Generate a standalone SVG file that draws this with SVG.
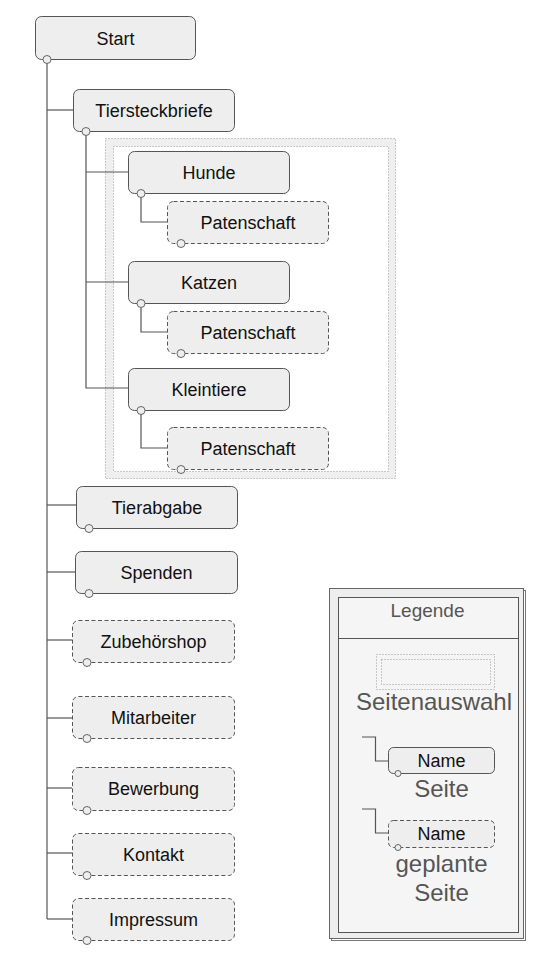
<svg xmlns="http://www.w3.org/2000/svg" width="540" height="959" viewBox="0 0 540 959">
<style>
.n{fill:#eeeeee;stroke:#555555;stroke-width:1}
.p{fill:#eeeeee;stroke:#555555;stroke-width:1;stroke-dasharray:4 2.5}
.t{font-family:"Liberation Sans",Arial,sans-serif;font-size:18px;fill:#111111;text-anchor:middle}
.c{fill:#eeeeee;stroke:#666666;stroke-width:1}
.l{fill:none;stroke:#555555;stroke-width:1.2}
.sel{stroke:#999999;stroke-width:1;stroke-dasharray:1 2}
.lg{font-family:"Liberation Sans",Arial,sans-serif;fill:#555555;text-anchor:middle}
</style>
<rect width="540" height="959" fill="#ffffff"/>
<g id="selection">
<rect class="sel" x="105.5" y="138.5" width="290" height="340" fill="#efefef"/>
<rect class="sel" x="113.5" y="146.5" width="275" height="325" fill="#ffffff"/>
</g>
<g id="connectors">
<path class="l" d="M47 59V919"/>
<path class="l" d="M47 110H73"/>
<path class="l" d="M86 131V388H128"/>
<path class="l" d="M86 172H128"/>
<path class="l" d="M86 282H128"/>
<path class="l" d="M141 193V222H167"/>
<path class="l" d="M141 303V332H167"/>
<path class="l" d="M141 411V448H167"/>
<path class="l" d="M47 505H76"/>
<path class="l" d="M47 572H75"/>
<path class="l" d="M47 640H72"/>
<path class="l" d="M47 718H72"/>
<path class="l" d="M47 788H72"/>
<path class="l" d="M47 853H72"/>
<path class="l" d="M47 919H72"/>
</g>
<g id="start"><rect class="n" x="35.5" y="16.5" width="160" height="43" rx="6"/><text class="t" x="115.5" y="44.5">Start</text><circle class="c" cx="47" cy="59.5" r="4"/></g>
<g id="tiersteckbriefe"><rect class="n" x="73.5" y="89.5" width="161" height="42" rx="6"/><text class="t" x="154" y="116.5">Tiersteckbriefe</text><circle class="c" cx="86" cy="131.5" r="4"/></g>
<g id="hunde"><rect class="n" x="128.5" y="151.5" width="161" height="42" rx="6"/><text class="t" x="209" y="178.5">Hunde</text><circle class="c" cx="141" cy="193.5" r="4"/></g>
<g id="hunde-patenschaft"><rect class="p" x="167.5" y="201.5" width="161" height="42" rx="6"/><text class="t" x="248" y="228.5">Patenschaft</text><circle class="c" cx="181" cy="243.5" r="4"/></g>
<g id="katzen"><rect class="n" x="128.5" y="261.5" width="161" height="42" rx="6"/><text class="t" x="209" y="288.5">Katzen</text><circle class="c" cx="141" cy="303.5" r="4"/></g>
<g id="katzen-patenschaft"><rect class="p" x="167.5" y="311.5" width="161" height="42" rx="6"/><text class="t" x="248" y="338.5">Patenschaft</text><circle class="c" cx="181" cy="353.5" r="4"/></g>
<g id="kleintiere"><rect class="n" x="128.5" y="368.5" width="161" height="42" rx="6"/><text class="t" x="209" y="395.5">Kleintiere</text><circle class="c" cx="141" cy="410.5" r="4"/></g>
<g id="kleintiere-patenschaft"><rect class="p" x="167.5" y="427.5" width="161" height="42" rx="6"/><text class="t" x="248" y="454.5">Patenschaft</text><circle class="c" cx="181" cy="469.5" r="4"/></g>
<g id="tierabgabe"><rect class="n" x="76.5" y="486.5" width="161" height="42" rx="6"/><text class="t" x="157" y="513.5">Tierabgabe</text><circle class="c" cx="89" cy="528.5" r="4"/></g>
<g id="spenden"><rect class="n" x="75.5" y="551.5" width="162" height="42" rx="6"/><text class="t" x="156.5" y="578.5">Spenden</text><circle class="c" cx="89" cy="593.5" r="4"/></g>
<g id="zubehoershop"><rect class="p" x="72.5" y="620.5" width="162" height="42" rx="6"/><text class="t" x="153.5" y="647.5">Zubehörshop</text><circle class="c" cx="87" cy="662.5" r="4"/></g>
<g id="mitarbeiter"><rect class="p" x="72.5" y="696.5" width="162" height="42" rx="6"/><text class="t" x="153.5" y="723.5">Mitarbeiter</text><circle class="c" cx="87" cy="738.5" r="4"/></g>
<g id="bewerbung"><rect class="p" x="72.5" y="767.5" width="162" height="43" rx="6"/><text class="t" x="153.5" y="795">Bewerbung</text><circle class="c" cx="87" cy="810.5" r="4"/></g>
<g id="kontakt"><rect class="p" x="72.5" y="833.5" width="162" height="42" rx="6"/><text class="t" x="153.5" y="860.5">Kontakt</text><circle class="c" cx="87" cy="875.5" r="4"/></g>
<g id="impressum"><rect class="p" x="72.5" y="898.5" width="162" height="42" rx="6"/><text class="t" x="153.5" y="925.5">Impressum</text><circle class="c" cx="87" cy="940.5" r="4"/></g>
<g id="legende">
<rect x="331.5" y="590.5" width="194" height="350" fill="none" stroke="#777777" stroke-width="1"/>
<rect x="329.5" y="588.5" width="194" height="350" fill="#eeeeee" stroke="#666666" stroke-width="1"/>
<rect x="338.5" y="597.5" width="180" height="335" fill="#f5f5f5" stroke="#555555" stroke-width="1"/>
<path d="M338.5 638.5H518.5" stroke="#555555" stroke-width="1.2"/>
<text class="lg" x="427.5" y="617" font-size="19">Legende</text>
<rect class="sel" x="376.5" y="654.5" width="118" height="35" fill="#f5f5f5"/>
<rect class="sel" x="381.5" y="659.5" width="109" height="25" fill="#f5f5f5"/>
<text class="lg" x="434" y="710" font-size="24">Seitenauswahl</text>
<path class="l" d="M362 737H375.5V761H388"/>
<rect class="n" x="388.5" y="747.5" width="106" height="26" rx="5"/>
<text class="t" x="441.5" y="767">Name</text>
<circle class="c" cx="398" cy="773.5" r="3"/>
<text class="lg" x="441.5" y="797" font-size="24">Seite</text>
<path class="l" d="M362 809H375.5V833H388"/>
<rect class="p" x="388.5" y="820.5" width="106" height="27" rx="5"/>
<text class="t" x="441.5" y="839.5">Name</text>
<circle class="c" cx="398" cy="847.5" r="3"/>
<text class="lg" x="441.5" y="872" font-size="24">geplante</text>
<text class="lg" x="441.5" y="900.5" font-size="24">Seite</text>
</g>
</svg>
